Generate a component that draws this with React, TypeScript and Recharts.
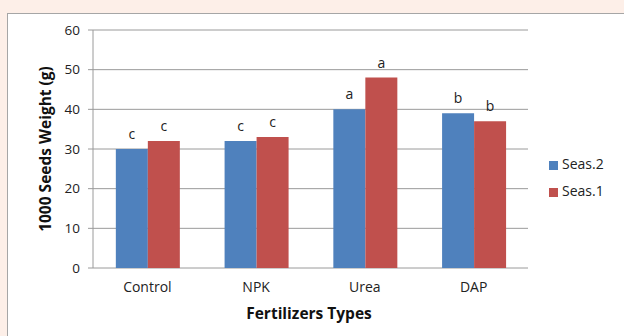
import { BarChart, Bar, XAxis, YAxis, CartesianGrid, Legend, LabelList } from 'recharts';

const fertilizers = ['Control', 'NPK', 'Urea', 'DAP'];
const seas2 = [30, 32, 40, 39];
const seas1 = [32, 33, 48, 37];
const seas2Letters = ['c', 'c', 'a', 'b'];
const seas1Letters = ['c', 'c', 'a', 'b'];
const yTicks = [0, 10, 20, 30, 40, 50, 60];
const boundaryTicks = [0, 1, 2, 3, 4];
const legendOrder = ['Seas.2', 'Seas.1'];

const data = fertilizers.map((name, i) => ({
  name,
  pos: i + 0.5,
  seas2: seas2[i],
  seas1: seas1[i],
  l2: seas2Letters[i],
  l1: seas1Letters[i],
}));

const font = '"Open Sans", "Liberation Sans", sans-serif';
const gray = '#9a9a9a';

export default function App() {
  return (
    <div style={{ position: 'absolute', left: 0, top: 0, width: 624, height: 336, background: '#fdefe8', overflow: 'hidden', fontFamily: font }}>
      <div style={{ position: 'absolute', left: 7, top: 13, width: 660, height: 360, background: '#fff', border: '1px solid #a6a6a6' }} />
      <div style={{ position: 'absolute', left: 0, top: 0 }}>
        <BarChart
          width={624}
          height={336}
          data={data}
          margin={{ top: 30, right: 16, bottom: 38, left: 43 }}
          barCategoryGap="21%"
          barGap={0}
        >
          <CartesianGrid vertical={false} stroke={gray} strokeWidth={1} />
          {/* boundary ticks between categories, like the original */}
          <XAxis
            xAxisId="edges"
            type="number"
            dataKey="pos"
            domain={[0, 4]}
            ticks={boundaryTicks}
            tick={false}
            height={0}
            tickSize={5}
            stroke={gray}
          />
          <XAxis
            dataKey="name"
            height={30}
            axisLine={false}
            tickLine={false}
            tickMargin={8}
            tick={{ fill: '#222', fontSize: 14, fontFamily: font }}
          />
          <YAxis
            domain={[0, 60]}
            ticks={yTicks}
            width={50}
            tickSize={5}
            tickMargin={8}
            stroke={gray}
            tick={{ fill: '#222', fontSize: 13.5, fontFamily: font }}
          />
          <Legend
            layout="vertical"
            align="right"
            verticalAlign="top"
            iconType="square"
            iconSize={9}
            itemSorter={(item: any) => legendOrder.indexOf(item.value)}
            wrapperStyle={{ left: 549, top: 150, width: 80, lineHeight: '27px', fontSize: 14, fontFamily: font }}
            formatter={(v) => <span style={{ color: '#222' }}>{v}</span>}
          />
          <Bar dataKey="seas2" name="Seas.2" fill="#4f81bd" isAnimationActive={false}>
            <LabelList dataKey="l2" position="top" offset={10} fill="#222" fontSize={14} fontFamily={font} />
          </Bar>
          <Bar dataKey="seas1" name="Seas.1" fill="#c0504d" isAnimationActive={false}>
            <LabelList dataKey="l1" position="top" offset={10} fill="#222" fontSize={14} fontFamily={font} />
          </Bar>
        </BarChart>
      </div>
      <div style={{ position: 'absolute', left: 209, top: 302, width: 200, textAlign: 'center', fontWeight: 'bold', fontSize: 15.5, color: '#111' }}>
        Fertilizers Types
      </div>
      <div style={{ position: 'absolute', left: 45, top: 149, width: 0, height: 0 }}>
        <div style={{ position: 'absolute', left: -120, top: -11, width: 240, textAlign: 'center', fontWeight: 'bold', fontSize: 15.5, color: '#111', transform: 'rotate(-90deg)', whiteSpace: 'nowrap' }}>
          1000 Seeds Weight (g)
        </div>
      </div>
    </div>
  );
}
